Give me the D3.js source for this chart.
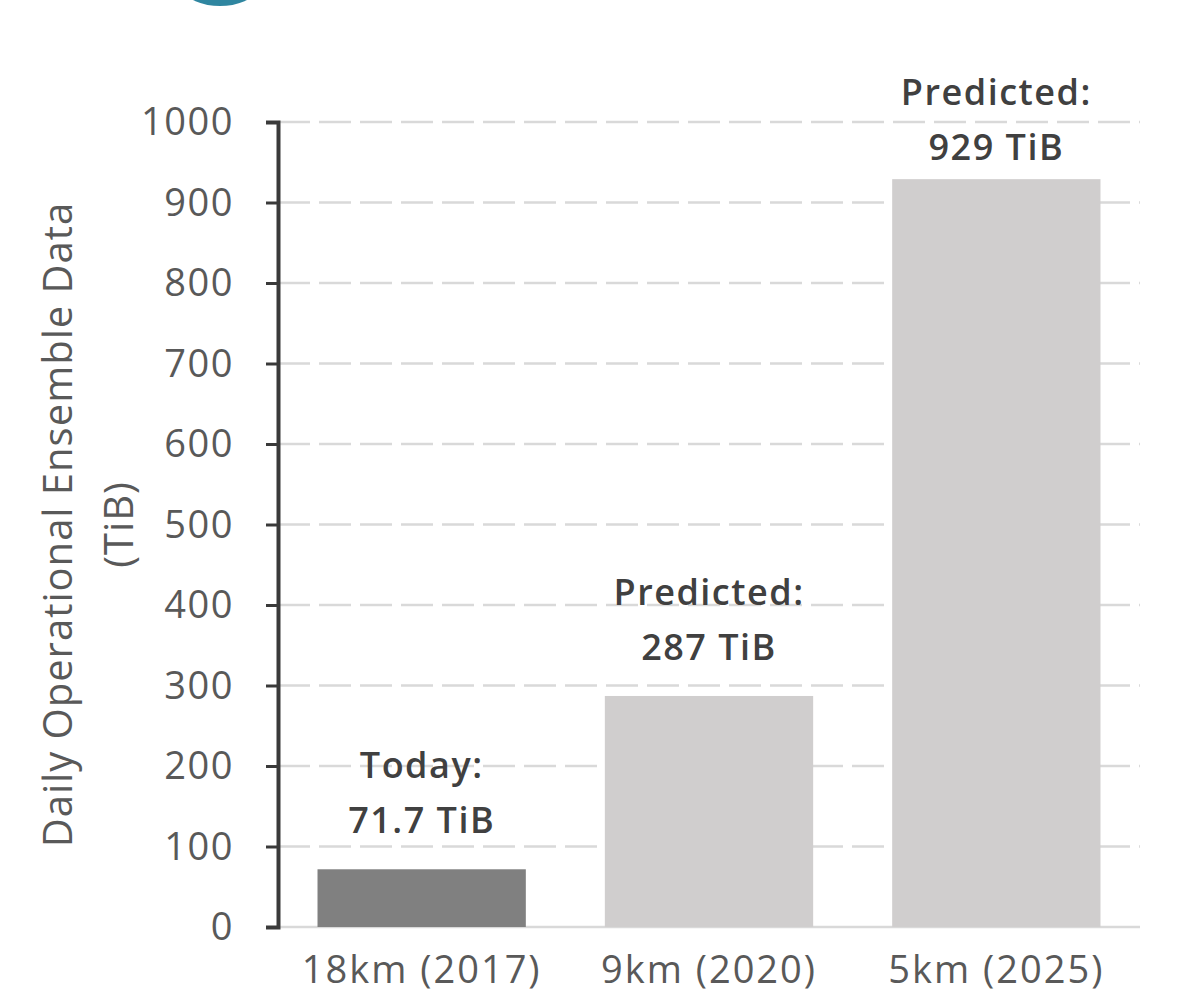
<!DOCTYPE html>
<html>
<head>
<meta charset="utf-8">
<script src="https://cdn.jsdelivr.net/npm/d3@7"></script>
<style>
  html, body { margin: 0; padding: 0; background: #fff; }
  svg { display: block; }
</style>
</head>
<body>
<svg id="chart" width="1182" height="997"></svg>
<script>
const categories = ["18km (2017)", "9km (2020)", "5km (2025)"];
const values = [71.7, 287, 929];
const labelTop = ["Today:", "Predicted:", "Predicted:"];
const labelBottom = ["71.7 TiB", "287 TiB", "929 TiB"];
const barColors = ["#808080", "#d0cece", "#d0cece"];
const yTicks = [0, 100, 200, 300, 400, 500, 600, 700, 800, 900, 1000];
const yTitle = ["Daily Operational Ensemble Data", "(TiB)"];

const svg = d3.select("#chart");
const font = "'Open Sans', 'Noto Sans', sans-serif";

const x0 = 278, x1 = 1140, yTop = 122, yBot = 927;
const x = d3.scaleBand().domain(categories).range([x0, x1]).paddingInner(0.275).paddingOuter(0.1375);
const y = d3.scaleLinear().domain([0, 1000]).range([yBot, yTop]);

// teal decoration at top-left
svg.append("circle").attr("cx", 220).attr("cy", -58).attr("r", 64).attr("fill", "#2f86a0");

// gridlines
svg.append("g").selectAll("line").data(yTicks.filter(d => d > 0)).join("line")
  .attr("x1", x0).attr("x2", x1)
  .attr("y1", d => y(d)).attr("y2", d => y(d))
  .attr("stroke", "#d9d9d9").attr("stroke-width", 2.5)
  .attr("stroke-dasharray", "32,9");

// baseline
svg.append("line").attr("x1", x0).attr("x2", x1).attr("y1", y(0)).attr("y2", y(0))
  .attr("stroke", "#d9d9d9").attr("stroke-width", 2.5);

// bars
svg.append("g").selectAll("rect").data(values).join("rect")
  .attr("x", (d, i) => x(categories[i]))
  .attr("width", x.bandwidth())
  .attr("y", d => y(d))
  .attr("height", d => y(0) - y(d))
  .attr("fill", (d, i) => barColors[i]);

// y axis
const yAxis = d3.axisLeft(y).tickValues(yTicks).tickSize(12).tickPadding(32).tickFormat(d3.format("d"));
const gy = svg.append("g").attr("transform", `translate(${x0},0)`).call(yAxis);
gy.select(".domain").attr("stroke", "#3a3a3a").attr("stroke-width", 4);
gy.selectAll(".tick line").attr("stroke", "#3a3a3a").attr("stroke-width", 3);
gy.selectAll(".tick text").attr("fill", "#595959").attr("font-family", font)
  .attr("font-size", 38).attr("letter-spacing", 1.5).attr("dy", "0.34em");

// x labels
svg.append("g").selectAll("text").data(categories).join("text")
  .attr("x", d => x(d) + x.bandwidth() / 2)
  .attr("y", 983)
  .attr("text-anchor", "middle")
  .attr("fill", "#595959").attr("font-family", font).attr("font-size", 38)
  .attr("letter-spacing", 2)
  .text(d => d);

// data labels
const lab = svg.append("g");
values.forEach((v, i) => {
  const cx = x(categories[i]) + x.bandwidth() / 2;
  let b2 = y(v) - 36;
  let b1 = b2 - 55;
  if (b1 < 105) { b1 = 105; b2 = 160; }
  [[b1, labelTop[i]], [b2, labelBottom[i]]].forEach(([by, t]) => {
    lab.append("text").attr("x", cx).attr("y", by).attr("text-anchor", "middle")
      .attr("fill", "#404040").attr("font-family", font).attr("font-size", 36).attr("font-weight", 600)
      .attr("letter-spacing", 1.5)
      .text(t);
  });
});

// y title
const cy = (yTop + yBot) / 2;
const tg = svg.append("g");
[72, 133].forEach((bx, i) => {
  tg.append("text")
    .attr("transform", `translate(${bx},${cy}) rotate(-90)`)
    .attr("text-anchor", "middle")
    .attr("fill", "#595959").attr("font-family", font).attr("font-size", 40)
    .attr("letter-spacing", 1)
    .text(yTitle[i]);
});
</script>
</body>
</html>
